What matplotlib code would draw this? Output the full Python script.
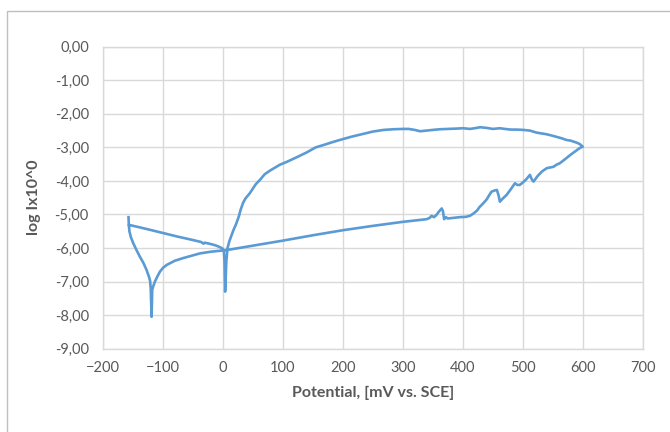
import matplotlib
matplotlib.use("Agg")
import matplotlib.pyplot as plt
from matplotlib.patches import Rectangle
from matplotlib.ticker import FuncFormatter

# forward scan (cathodic -> anodic), potential in mV vs SCE, log current
pot_fwd = [-157, -156.5, -155.5, -153, -149, -144, -138, -132, -127, -123, -121, -120,
           -119.5, -119, -118.5, -118, -117.5, -116, -113, -109, -104.5, -99, -93, -80,
           -66, -50, -38, -20, -4, 10, 50, 100, 150, 200, 250, 300, 340, 345, 348, 352,
           356, 360, 365, 367, 369, 372, 375, 385, 395, 405, 412, 418, 424, 428, 434,
           440, 445, 448, 454, 457, 460, 462, 467, 473, 480, 487, 491, 495, 500, 506,
           512, 515, 518, 525, 532, 540, 546, 551, 556, 562, 570, 579, 585, 590, 595, 600]
logi_fwd = [-5.08, -5.30, -5.50, -5.68, -5.86, -6.05, -6.26, -6.45, -6.65, -6.85, -6.98, -7.20,
            -7.50, -7.80, -8.05, -7.60, -7.25, -7.15, -7.00, -6.85, -6.70, -6.58, -6.50, -6.38,
            -6.30, -6.22, -6.16, -6.11, -6.08, -6.05, -5.93, -5.78, -5.62, -5.47, -5.34, -5.22,
            -5.14, -5.10, -5.04, -5.08, -5.02, -4.92, -4.82, -4.90, -5.14, -5.08, -5.12, -5.10,
            -5.08, -5.07, -5.04, -4.97, -4.88, -4.78, -4.67, -4.55, -4.40, -4.32, -4.28, -4.27,
            -4.45, -4.62, -4.52, -4.42, -4.25, -4.07, -4.12, -4.12, -4.05, -3.95, -3.82, -3.95,
            -4.02, -3.85, -3.72, -3.62, -3.60, -3.58, -3.52, -3.47, -3.36, -3.23, -3.15, -3.08,
            -3.02, -2.98]

# reverse scan (600 mV back to -156 mV)
pot_rev = [600, 595, 590, 580, 573, 565, 551, 540, 523, 512, 501, 490, 480, 470, 462, 450,
           440, 429, 420, 412, 401, 390, 375, 362, 350, 340, 329, 320, 310, 301, 285, 268,
           250, 234, 215, 195, 180, 168, 155, 140, 125, 107, 95, 79, 70, 62, 55, 45, 38, 34,
           30, 27, 22, 18, 14, 11, 8, 6, 5, 4, 3.5, 3, 2, 0, -5, -12, -20, -30, -32, -36,
           -50, -75, -100, -125, -156]
logi_rev = [-2.98, -2.90, -2.86, -2.80, -2.78, -2.73, -2.66, -2.61, -2.56, -2.50, -2.48, -2.47,
            -2.47, -2.45, -2.43, -2.45, -2.42, -2.40, -2.43, -2.45, -2.43, -2.44, -2.45, -2.46,
            -2.48, -2.50, -2.52, -2.48, -2.45, -2.45, -2.46, -2.48, -2.53, -2.60, -2.68, -2.78,
            -2.86, -2.93, -3.00, -3.15, -3.28, -3.43, -3.52, -3.69, -3.80, -3.97, -4.10, -4.37,
            -4.52, -4.65, -4.85, -5.05, -5.30, -5.46, -5.65, -5.80, -6.00, -6.40, -6.90, -7.30,
            -6.90, -6.40, -6.10, -6.02, -5.97, -5.92, -5.88, -5.84, -5.87, -5.82, -5.76, -5.66,
            -5.55, -5.44, -5.31]

x_ticks = list(range(-200, 701, 100))
y_ticks = list(range(-9, 1))

gray = "#595959"
grid_c = "#D9D9D9"

plt.rcParams['font.family'] = ['Lato', 'DejaVu Sans']

fig = plt.figure(figsize=(6.7, 4.32), dpi=100)
ax = fig.add_axes([0.1533, 0.1928, 0.806, 0.6991])

ax.plot(pot_fwd + pot_rev, logi_fwd + logi_rev, color="#5B9BD5", lw=1.9,
        solid_joinstyle="round")

ax.set_xlim(-200, 700)
ax.set_ylim(-9, 0)
ax.set_xticks(x_ticks)
ax.set_yticks(y_ticks)
ax.yaxis.set_major_formatter(FuncFormatter(lambda v, p: f"{v:.2f}".replace(".", ",")))
ax.grid(True, color=grid_c, lw=1)
ax.set_axisbelow(True)
for s in ax.spines.values():
    s.set_color(grid_c)
    s.set_linewidth(1)
ax.tick_params(length=0, labelsize=10.5, labelcolor=gray)
ax.tick_params(axis="x", pad=9)
ax.tick_params(axis="y", pad=10)

ax.set_xlabel("Potential, [mV vs. SCE]", fontsize=11.5, fontweight="bold",
              color=gray, labelpad=8)
ax.set_ylabel("log Ix10^0", fontsize=11.5, fontweight="bold", color=gray, labelpad=10)

# outer chart border
fig.patches.append(Rectangle((7 / 670, -0.1), 1.2, 1 - 11 / 432 + 0.1,
                             transform=fig.transFigure, fill=False,
                             edgecolor="#BFBFBF", lw=1))

fig.savefig("out.png", dpi=100)
